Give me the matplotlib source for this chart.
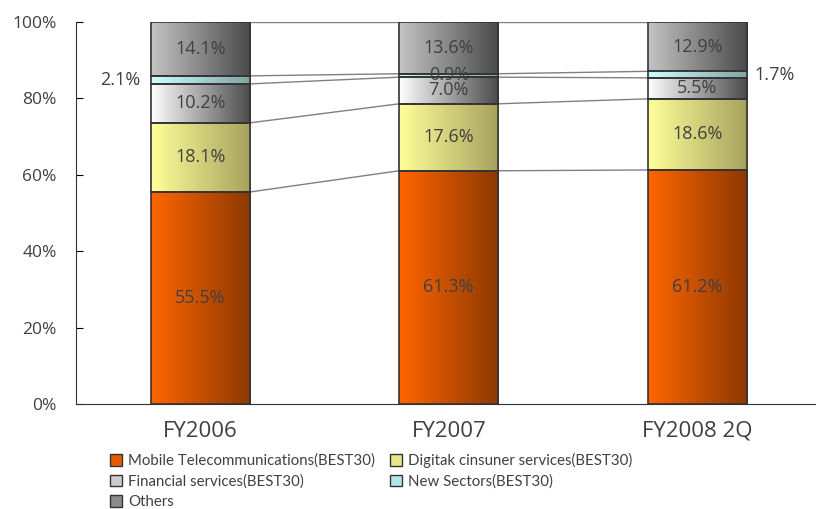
import numpy as np
import matplotlib
matplotlib.use("Agg")
import matplotlib.pyplot as plt
from matplotlib.colors import LinearSegmentedColormap
from matplotlib.patches import Patch

# data
categories = ["FY2006", "FY2007", "FY2008 2Q"]
series_names = ["Mobile Telecommunications(BEST30)",
                "Digitak cinsuner services(BEST30)",
                "Financial services(BEST30)",
                "New Sectors(BEST30)",
                "Others"]
mobile = [55.5, 61.3, 61.2]
digital = [18.1, 17.6, 18.6]
financial = [10.2, 7.0, 5.5]
new_sectors = [2.1, 0.9, 1.7]
others = [14.1, 13.6, 12.9]

series = [mobile, digital, financial, new_sectors, others]
# gradient (left, right) colours per series
grads = [("#FF6600", "#8C3800"),
         ("#FFFF99", "#A6A15E"),
         ("#FFFFFF", "#4A4A4A"),
         ("#CCFFFF", "#7FA3A3"),
         ("#C4C4C4", "#4A4A4A")]
legend_colors = ["#E65C00", "#E6E68A", "#CCCCCC", "#B3E6E6", "#8C8C8C"]

plt.rcParams["font.family"] = ["Open Sans", "DejaVu Sans"]
txt = "#404040"

fig = plt.figure(figsize=(8.16, 5.09), dpi=100)
ax = fig.add_axes([76 / 816, 1 - 404 / 509, 745.5 / 816, 382 / 509])

vals = np.array(series, dtype=float)
totals = vals.sum(axis=0)
pct = vals / totals * 100
x = np.arange(len(categories))
w = 0.40
grad = np.linspace(0, 1, 256).reshape(1, -1)

bottoms = np.zeros(len(categories))
tops_list = []
for i, name in enumerate(series_names):
    cmap = LinearSegmentedColormap.from_list("g%d" % i, grads[i])
    for j in range(len(categories)):
        b = bottoms[j]
        h = pct[i, j]
        ax.imshow(grad, extent=[x[j] - w / 2, x[j] + w / 2, b, b + h],
                  aspect="auto", cmap=cmap, zorder=2, interpolation="bilinear")
    ax.bar(x, pct[i], w, bottom=bottoms, facecolor="none",
           edgecolor="#333333", linewidth=1.2, zorder=3)
    bottoms = bottoms + pct[i]
    tops_list.append(bottoms.copy())

# series lines between bars
for tops in tops_list:
    for j in range(len(categories) - 1):
        ax.plot([x[j] + w / 2, x[j + 1] - w / 2], [tops[j], tops[j + 1]],
                color="#808080", lw=1, zorder=1)

# value labels
bottoms = np.zeros(len(categories))
for i in range(len(series_names)):
    for j in range(len(categories)):
        v = series[i][j]
        mid = bottoms[j] + pct[i, j] / 2
        label = "%.1f%%" % v
        if i == 3 and j == 0:
            ax.text(x[j] - w / 2 - 0.04, mid, label, ha="right", va="center",
                    fontsize=13, color=txt, zorder=4)
        elif i == 3 and j == 2:
            ax.text(x[j] + w / 2 + 0.03, mid, label, ha="left", va="center",
                    fontsize=13, color=txt, zorder=4)
        else:
            ax.text(x[j], mid, label, ha="center", va="center",
                    fontsize=13, color=txt, zorder=4)
    bottoms = bottoms + pct[i]

ax.set_xlim(-0.5, len(categories) - 0.5)
ax.set_ylim(0, 100)
ax.set_yticks(np.arange(0, 101, 20))
ax.set_yticklabels(["%d%%" % t for t in range(0, 101, 20)], fontsize=12.5, color=txt)
ax.set_xticks(x)
ax.set_xticklabels(categories, fontsize=16, color=txt)
ax.tick_params(axis="y", direction="in", length=5, pad=14)
ax.tick_params(axis="x", length=0, pad=12)
for s in ["top", "right"]:
    ax.spines[s].set_visible(False)
ax.spines["left"].set_color("#333333")
ax.spines["bottom"].set_color("#333333")

handles = [Patch(facecolor=legend_colors[i], edgecolor="#333333", label=series_names[i])
           for i in range(len(series_names))]
order = [0, 2, 4, 1, 3]
fig.legend([handles[k] for k in order], [series_names[k] for k in order],
           loc="upper left", bbox_to_anchor=(110 / 816, 1 - 453 / 509), ncol=2,
           frameon=False, prop={"family": "Lato", "size": 10.8},
           handlelength=0.8, handleheight=0.8,
           handletextpad=0.4, labelspacing=0.42, columnspacing=1.0,
           borderaxespad=0, borderpad=0, labelcolor=txt)

fig.savefig("out.png", dpi=100)
